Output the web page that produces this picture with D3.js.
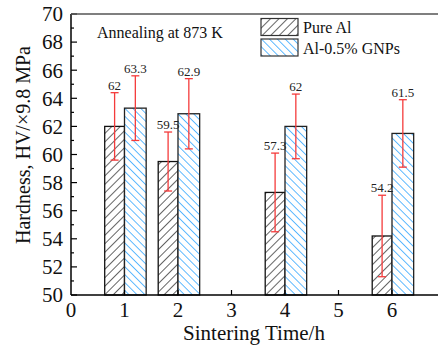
<!DOCTYPE html>
<html>
<head>
<meta charset="utf-8">
<script src="https://cdn.jsdelivr.net/npm/d3@7/dist/d3.min.js"></script>
<style>
  html, body { margin: 0; padding: 0; background: #fff; }
  svg { display: block; }
</style>
</head>
<body>
<svg id="chart" width="438" height="351" font-family="Times New Roman, Tinos, serif"></svg>
<script>
// Sintering times (h) and Vickers hardness for the two materials
const times = [1, 2, 4, 6];
const pureAl = [62, 59.5, 57.3, 54.2];
const pureAlErr = [2.4, 2.1, 2.8, 2.9];
const gnps = [63.3, 62.9, 62, 61.5];
const gnpsErr = [2.3, 2.5, 2.3, 2.4];
const xTicks = [0, 1, 2, 3, 4, 5, 6];
const yTicks = [50, 52, 54, 56, 58, 60, 62, 64, 66, 68, 70];
const seriesNames = ["Pure Al", "Al-0.5% GNPs"];

const serif = "Times New Roman, Tinos, serif";
const svg = d3.select("#chart");
const plotLeft = 71, plotBottom = 295, plotTop = 14;
const x = d3.scaleLinear().domain([0, 7]).range([plotLeft, plotLeft + 7 * 53.5]);
const y = d3.scaleLinear().domain([50, 70]).range([plotBottom, plotTop]);

// hatch patterns
const defs = svg.append("defs");
const hatch = (id, color, angle, gap, sw) => {
  const p = defs.append("pattern")
    .attr("id", id).attr("patternUnits", "userSpaceOnUse")
    .attr("width", gap).attr("height", gap)
    .attr("patternTransform", `rotate(${angle})`);
  p.append("rect").attr("width", gap).attr("height", gap).attr("fill", "#fff");
  p.append("line").attr("x1", 0).attr("y1", 0).attr("x2", 0).attr("y2", gap)
    .attr("stroke", color).attr("stroke-width", sw);
};
hatch("hatchBlack", "#111", 45, 6, 1.3);
hatch("hatchBlue", "#0a94ff", -45, 5.6, 1.3);

const wPure = 0.37, wGnp = 0.405;

// bars
svg.append("g").selectAll("rect").data(times).join("rect")
  .attr("x", (t) => x(t - wPure)).attr("width", (t) => x(t) - x(t - wPure))
  .attr("y", (t, i) => y(pureAl[i])).attr("height", (t, i) => y(50) - y(pureAl[i]))
  .attr("fill", "url(#hatchBlack)").attr("stroke", "#111").attr("stroke-width", 1.3);

svg.append("g").selectAll("rect").data(times).join("rect")
  .attr("x", (t) => x(t)).attr("width", (t) => x(t + wGnp) - x(t))
  .attr("y", (t, i) => y(gnps[i])).attr("height", (t, i) => y(50) - y(gnps[i]))
  .attr("fill", "url(#hatchBlue)").attr("stroke", "#222").attr("stroke-width", 1.3);

// error bars and value labels
const drawErr = (vals, errs, offset, cls) => {
  const g = svg.append("g").attr("class", cls);
  times.forEach((t, i) => {
    const cx = x(t + offset);
    const hi = y(vals[i] + errs[i]), lo = y(vals[i] - errs[i]);
    g.append("line").attr("x1", cx).attr("x2", cx).attr("y1", hi).attr("y2", lo)
      .attr("stroke", "#f43b3b").attr("stroke-width", 1.3);
    [hi, lo].forEach((yy) => g.append("line")
      .attr("x1", cx - 4).attr("x2", cx + 4).attr("y1", yy).attr("y2", yy)
      .attr("stroke", "#f43b3b").attr("stroke-width", 1.3));
    g.append("text").attr("x", cx).attr("y", hi - 3)
      .attr("text-anchor", "middle").attr("font-size", 13).attr("fill", "#222")
      .attr("font-family", serif)
      .text(vals[i]);
  });
};
drawErr(pureAl, pureAlErr, -wPure / 2, "err-pure");
drawErr(gnps, gnpsErr, wGnp / 2, "err-gnps");

// axes
const yAxis = svg.append("g").attr("transform", `translate(${plotLeft},0)`);
yAxis.append("line").attr("x1", 0).attr("x2", 0).attr("y1", plotTop).attr("y2", plotBottom)
  .attr("stroke", "#000").attr("stroke-width", 1.5);
d3.range(50, 71, 1).forEach((v) => {
  const major = v % 2 === 0;
  yAxis.append("line").attr("x1", 0).attr("x2", major ? 6 : 3)
    .attr("y1", y(v)).attr("y2", y(v)).attr("stroke", "#000").attr("stroke-width", 1.2);
});
yAxis.selectAll("text").data(yTicks).join("text")
  .attr("x", -8).attr("y", (d) => y(d)).attr("dy", "0.35em")
  .attr("text-anchor", "end").attr("font-size", 21).attr("fill", "#111")
  .attr("font-family", serif)
  .text((d) => d);

const xAxis = svg.append("g");
xAxis.append("line").attr("x1", plotLeft).attr("x2", 438).attr("y1", plotBottom).attr("y2", plotBottom)
  .attr("stroke", "#000").attr("stroke-width", 1.5);
xAxis.selectAll("line.tick").data(xTicks.slice(1)).join("line").attr("class", "tick")
  .attr("x1", (d) => x(d)).attr("x2", (d) => x(d))
  .attr("y1", plotBottom).attr("y2", plotBottom - 5).attr("stroke", "#000").attr("stroke-width", 1.2);
xAxis.selectAll("text").data(xTicks).join("text")
  .attr("x", (d) => x(d)).attr("y", 317)
  .attr("text-anchor", "middle").attr("font-size", 21).attr("fill", "#111")
  .attr("font-family", serif)
  .text((d) => d);

// top frame line
svg.append("line").attr("x1", plotLeft).attr("x2", 438).attr("y1", plotTop).attr("y2", plotTop)
  .attr("stroke", "#555").attr("stroke-width", 1.5);

// titles
svg.append("text").attr("x", 254).attr("y", 340).attr("text-anchor", "middle")
  .attr("font-size", 21).attr("fill", "#111").attr("font-family", serif)
  .text("Sintering Time/h");
svg.append("text").attr("transform", "translate(30,145) rotate(-90)")
  .attr("text-anchor", "middle").attr("font-size", 20).attr("fill", "#111")
  .attr("font-family", serif)
  .text("Hardness, HV/×9.8 MPa");
svg.append("text").attr("x", 97).attr("y", 38)
  .attr("font-size", 16).attr("fill", "#111").attr("font-family", serif)
  .text("Annealing at 873 K");

// legend
const legend = svg.append("g");
const fills = ["url(#hatchBlack)", "url(#hatchBlue)"];
seriesNames.forEach((name, i) => {
  const yy = 18.5 + i * 20.5;
  legend.append("rect").attr("x", 261).attr("y", yy).attr("width", 37).attr("height", 17)
    .attr("fill", fills[i]).attr("stroke", "#333").attr("stroke-width", 1.2);
  legend.append("text").attr("x", 303).attr("y", yy + 14.5)
    .attr("font-size", 16).attr("fill", "#111").attr("font-family", serif)
    .text(name);
});
</script>
</body>
</html>
